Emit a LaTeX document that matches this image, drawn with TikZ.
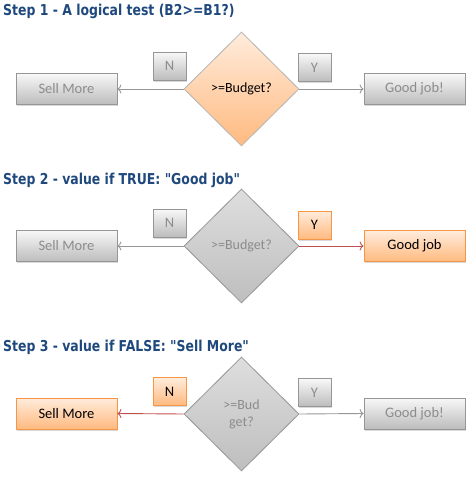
\documentclass[tikz,border=0pt]{standalone}
\usepackage{fontspec}
\setmainfont{Carlito}
\newfontfamily\titlefont{DejaVu Sans}[FakeStretch=0.83]
\usetikzlibrary{shapes.geometric,arrows.meta,shadows}
\definecolor{titleblue}{RGB}{31,73,125}
\definecolor{greytxt}{RGB}{140,140,140}
\definecolor{greyline}{RGB}{150,150,150}
\definecolor{greytop}{RGB}{248,248,248}
\definecolor{greybot}{RGB}{188,188,188}
\definecolor{dectop}{RGB}{222,222,222}
\definecolor{decbot}{RGB}{190,190,190}
\definecolor{orgtop}{RGB}{255,236,220}
\definecolor{orgbot}{RGB}{255,186,128}
\definecolor{orgline}{RGB}{247,150,70}
\definecolor{redline}{RGB}{192,80,77}
\tikzset{
  titletext/.style={anchor=base west,inner sep=0pt,font=\titlefont\bfseries\fontsize{15}{18}\selectfont,text=titleblue},
  shad/.style={drop shadow={shadow xshift=1pt,shadow yshift=-1.5pt,opacity=0.25,fill=black!60}},
  greybox/.style={rectangle,draw=greyline,line width=0.8pt,top color=greytop,bottom color=greybot,text=greytxt,shad,inner sep=0pt,font=\fontsize{14.5}{16}\selectfont},
  orgbox/.style={rectangle,draw=orgline,line width=0.8pt,top color=orgtop,bottom color=orgbot,text=black,shad,inner sep=0pt,font=\fontsize{14.5}{16}\selectfont},
  bigbox/.style={minimum width=101pt,minimum height=31pt},
  tagbox/.style={minimum width=33pt,minimum height=28pt},
  decide/.style={diamond,aspect=1,inner sep=0pt,minimum width=115pt,minimum height=114pt,line width=0.8pt,font=\fontsize{14}{17}\selectfont,align=center},
  greydec/.style={decide,draw=greyline,top color=dectop,bottom color=decbot,text=greytxt},
  orgdec/.style={decide,draw=greyline!70,top color=orgtop,bottom color=orgbot,text=black},
  garrow/.style={draw=greyline,line width=0.9pt,-{To[length=4pt,width=9pt]}},
  rarrow/.style={draw=redline,line width=0.9pt,-{To[length=4pt,width=9pt]}}
}
\begin{document}
\begin{tikzpicture}[x=1pt,y=-1pt]
\useasboundingbox (0,0) rectangle (470,482);
% Step 1
\node[titletext] (t1) at (3,15) {Step 1 - A logical test (B2>=B1?)};
\node[greybox,bigbox] (s1) at (66.5,89) {Sell More};
\node[greybox,bigbox] (g1) at (414.5,89) {Good job!};
\node[greybox,tagbox] (n1) at (169.5,66) {N};
\node[greybox,tagbox] (y1) at (314.5,67.5) {Y};
\node[orgdec] (d1) at (241.5,89) {>=Budget?};
\draw[garrow] (d1.west) -- (s1.east);
\draw[garrow] (d1.east) -- (g1.west);
% Step 2
\node[titletext] (t2) at (3,184) {Step 2 - value if TRUE: "Good job"};
\node[greybox,bigbox] (s2) at (66.5,246) {Sell More};
\node[orgbox,bigbox] (g2) at (414.5,246) {Good job};
\node[greybox,tagbox] (n2) at (169.5,223) {N};
\node[orgbox,tagbox] (y2) at (314.5,225) {Y};
\node[greydec] (d2) at (241.5,246) {>=Budget?};
\draw[garrow] (d2.west) -- (s2.east);
\draw[rarrow] (d2.east) -- (g2.west);
% Step 3
\node[titletext] (t3) at (3,351) {Step 3 - value if FALSE: "Sell More"};
\node[orgbox,bigbox] (s3) at (66.5,413.5) {Sell More};
\node[greybox,bigbox] (g3) at (414.5,413.5) {Good job!};
\node[orgbox,tagbox] (n3) at (169.5,391.5) {N};
\node[greybox,tagbox] (y3) at (314.5,392.5) {Y};
\node[greydec] (d3) at (241.5,414) {>=Bud\\get?};
\draw[rarrow] (d3.west) -- (s3.east);
\draw[garrow] (d3.east) -- (g3.west);
\end{tikzpicture}
\end{document}
